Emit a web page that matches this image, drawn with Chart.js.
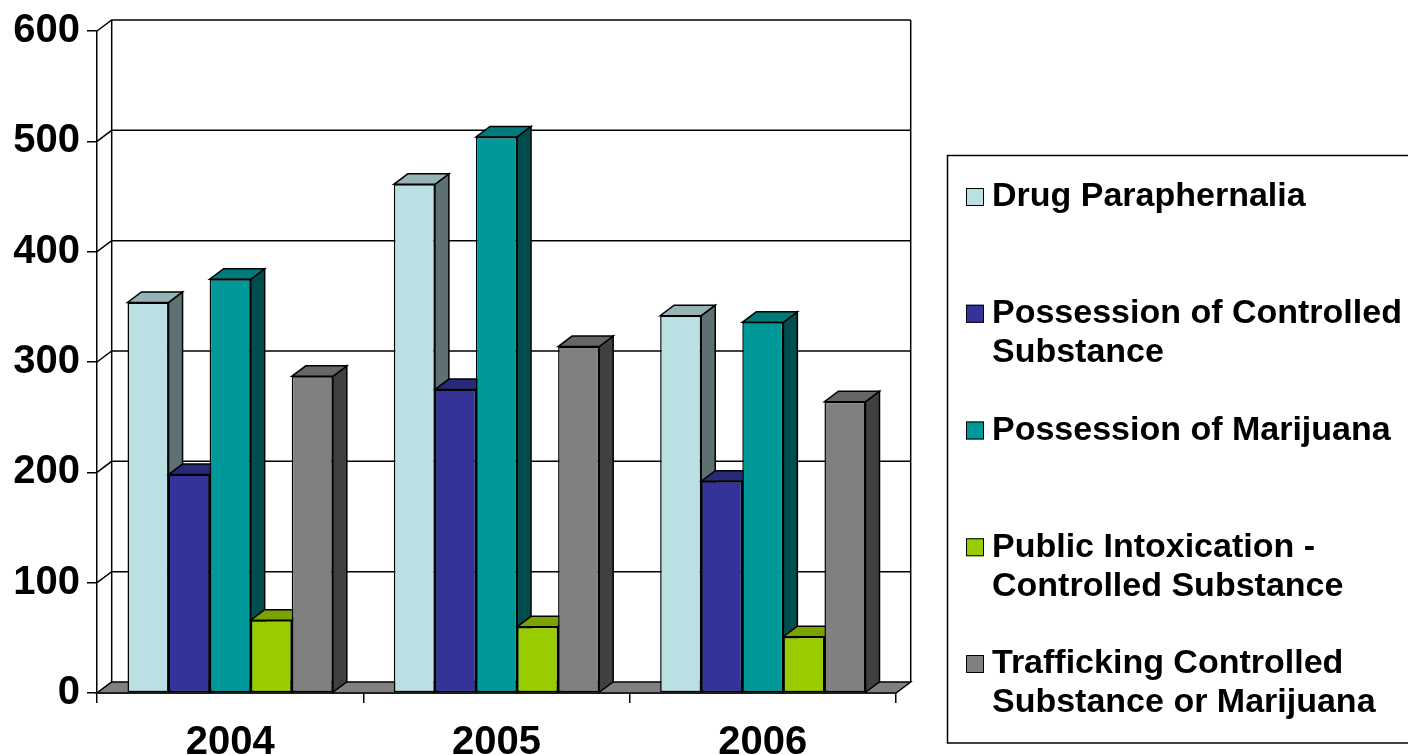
<!DOCTYPE html>
<html>
<head>
<meta charset="utf-8">
<script src="https://cdn.jsdelivr.net/npm/chart.js@4/dist/chart.umd.min.js"></script>
<style>
  html, body { margin: 0; padding: 0; background: #fff; }
  #wrap { width: 1408px; height: 755px; position: relative; }
</style>
</head>
<body>
<div id="wrap"><canvas id="chart"></canvas></div>
<script>
// Drug-related arrests by year and charge
const categories = ['2004', '2005', '2006'];

const drugParaphernalia        = [354, 461, 342];
const possessionControlled     = [198, 275, 192];
const possessionMarijuana      = [375, 504, 336];
const publicIntoxication       = [66, 60, 51];
const traffickingControlled    = [287, 314, 264];

const seriesLabels = [
  ['Drug Paraphernalia'],
  ['Possession of Controlled', 'Substance'],
  ['Possession of Marijuana'],
  ['Public Intoxication -', 'Controlled Substance'],
  ['Trafficking Controlled', 'Substance or Marijuana']
];
const seriesValues = [drugParaphernalia, possessionControlled, possessionMarijuana,
                      publicIntoxication, traffickingControlled];
const seriesColors = ['#BBE0E3', '#333399', '#009999', '#99CC00', '#808080'];

const yTicks = [0, 100, 200, 300, 400, 500, 600];

const FONT = "'Liberation Sans', Arial, Helvetica, sans-serif";

// depth offsets for the pseudo-3D look
const WALL_DX = 14.7, WALL_DY = -11;
const BAR_DX = 14, BAR_DY = -10.5;

function shade(hex, f) {
  const n = parseInt(hex.slice(1), 16);
  const r = Math.round(((n >> 16) & 255) * f);
  const g = Math.round(((n >> 8) & 255) * f);
  const b = Math.round((n & 255) * f);
  return `rgb(${r},${g},${b})`;
}

function poly(ctx, pts, fill) {
  ctx.beginPath();
  ctx.moveTo(pts[0][0], pts[0][1]);
  for (let i = 1; i < pts.length; i++) ctx.lineTo(pts[i][0], pts[i][1]);
  ctx.closePath();
  if (fill) { ctx.fillStyle = fill; ctx.fill(); }
  ctx.stroke();
}

// top and right faces of one series' bars
function drawBarDepth(chart, index) {
  const { ctx } = chart;
  const meta = chart.getDatasetMeta(index);
  const color = chart.data.datasets[index].backgroundColor;
  ctx.save();
  ctx.strokeStyle = '#000';
  ctx.lineWidth = 1.5;
  meta.data.forEach(bar => {
    const p = bar.getProps(['x', 'y', 'base', 'width'], true);
    const l = p.x - p.width / 2, r = p.x + p.width / 2;
    poly(ctx, [[r, p.y], [r + BAR_DX, p.y + BAR_DY], [r + BAR_DX, p.base + BAR_DY], [r, p.base]], shade(color, 0.5));
    poly(ctx, [[l, p.y], [r, p.y], [r + BAR_DX, p.y + BAR_DY], [l + BAR_DX, p.y + BAR_DY]], shade(color, 0.8));
  });
  ctx.restore();
}

const walls3d = {
  id: 'walls3d',
  // back wall, side wall gridlines and the floor slab
  beforeDatasetsDraw(chart) {
    const { ctx, chartArea: a, scales: { y } } = chart;
    ctx.save();
    ctx.strokeStyle = '#000';
    ctx.lineWidth = 1.5;
    const bl = a.left + WALL_DX, br = a.right + WALL_DX;
    const top = y.getPixelForValue(yTicks[yTicks.length - 1]) + WALL_DY;
    const bottom = y.getPixelForValue(0) + WALL_DY;
    yTicks.forEach(v => {
      const yf = y.getPixelForValue(v);
      ctx.beginPath();
      ctx.moveTo(a.left, yf);
      ctx.lineTo(bl, yf + WALL_DY);
      if (v !== 0) ctx.lineTo(br, yf + WALL_DY);
      ctx.stroke();
    });
    ctx.beginPath();
    ctx.moveTo(bl, top); ctx.lineTo(bl, bottom);
    ctx.moveTo(br, top); ctx.lineTo(br, bottom);
    ctx.stroke();
    const yb = y.getPixelForValue(0);
    poly(ctx, [[a.left, yb], [a.right, yb], [br, yb + WALL_DY], [bl, yb + WALL_DY]], '#808080');
    ctx.restore();
  },
  // series are painted left to right below, each after its depth faces
  beforeDatasetDraw() { return false; },
  afterDatasetsDraw(chart) {
    chart.data.datasets.forEach((ds, i) => {
      drawBarDepth(chart, i);
      chart.getDatasetMeta(i).controller.draw();
    });
  },
  // boxed legend on the right
  afterDraw(chart) {
    const { ctx } = chart;
    ctx.save();
    ctx.strokeStyle = '#000';
    ctx.lineWidth = 1.5;
    ctx.strokeRect(947.5, 155.5, 480, 587.5);
    ctx.font = `bold 34px ${FONT}`;
    ctx.textBaseline = 'middle';
    ctx.textAlign = 'left';
    chart.data.datasets.forEach((ds, i) => {
      const cy = 197 + i * 116.75;
      ctx.lineWidth = 1;
      ctx.fillStyle = ds.backgroundColor;
      ctx.fillRect(966, cy - 9, 18, 18);
      ctx.strokeRect(966.5, cy - 8.5, 17, 17);
      ctx.fillStyle = '#000';
      seriesLabels[i].forEach((line, j) => ctx.fillText(line, 992, cy + j * 39));
    });
    ctx.restore();
  }
};

const datasets = seriesValues.map((vals, i) => ({
  label: seriesLabels[i].join(' '),
  data: vals,
  backgroundColor: seriesColors[i],
  borderColor: '#000',
  borderWidth: 1.5,
  borderSkipped: false,
  categoryPercentage: 0.771,
  barPercentage: 1.0
}));

new Chart(document.getElementById('chart'), {
  type: 'bar',
  data: { labels: categories, datasets },
  plugins: [walls3d],
  options: {
    responsive: true,
    maintainAspectRatio: false,
    animation: false,
    events: [],
    layout: { padding: { left: 0, top: 31, right: 512, bottom: 0 } },
    plugins: { legend: { display: false }, tooltip: { enabled: false } },
    scales: {
      x: {
        grid: { offset: true, drawOnChartArea: false, drawTicks: true, tickLength: 10, color: '#000', lineWidth: 1.5 },
        border: { display: true, color: '#000', width: 1.5 },
        ticks: { color: '#000', padding: 16, font: { family: FONT, size: 40, weight: 'bold' } },
        afterFit(s) { s.height = 62; }
      },
      y: {
        min: 0, max: 600,
        afterBuildTicks(s) { s.ticks = yTicks.map(v => ({ value: v })); },
        grid: { drawOnChartArea: false, drawTicks: true, tickLength: 10, color: '#000', lineWidth: 1.5 },
        border: { display: true, color: '#000', width: 1.5 },
        ticks: { color: '#000', padding: 7, font: { family: FONT, size: 40, weight: 'bold' } },
        afterFit(s) { s.width = 97; }
      }
    }
  }
});
</script>
</body>
</html>
